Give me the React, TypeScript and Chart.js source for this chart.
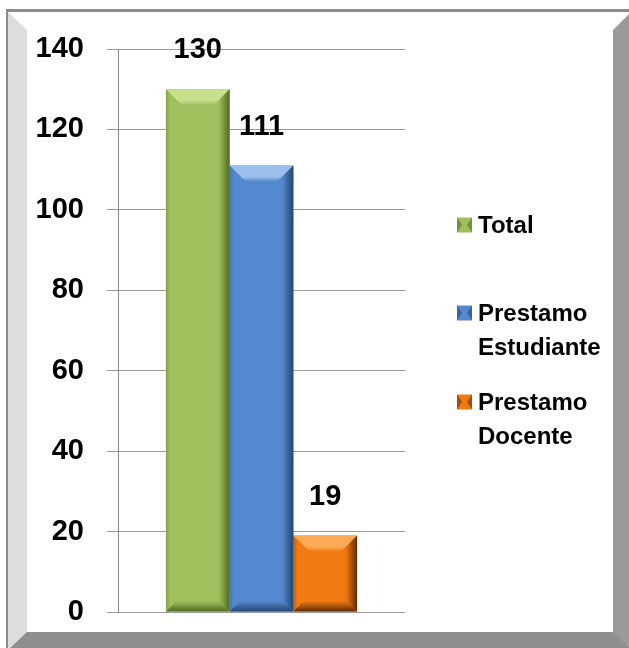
import React, { useEffect, useRef } from 'react';
import { Chart, registerables } from 'chart.js';

Chart.register(...registerables);

// ---- data ----
const categories = [''];
const seriesNames = ['Total', 'Prestamo Estudiante', 'Prestamo Docente'];
const legendLines = [['Total'], ['Prestamo', 'Estudiante'], ['Prestamo', 'Docente']];
const totalValues = [130];
const estudianteValues = [111];
const docenteValues = [19];
const yMin = 0;
const yMax = 140;
const yStep = 20;

// ---- styles ----
const faceColors = ['#9fc05c', '#5589cf', '#f07a12'];
const lightColors = ['#c8e08e', '#9cc0ec', '#fbab58'];
const darkColors = ['#4f6b20', '#22466f', '#5e2c02'];
const FONT = '"Liberation Sans", Arial, sans-serif';

function bevelRect(ctx: CanvasRenderingContext2D, l: number, t: number, r: number, b: number, d: number, i: number) {
  const face = faceColors[i];
  // top
  let g = ctx.createLinearGradient(0, t, 0, t + d);
  g.addColorStop(0, lightColors[i]);
  g.addColorStop(0.7, lightColors[i]);
  g.addColorStop(1, face);
  ctx.fillStyle = g;
  ctx.beginPath();
  ctx.moveTo(l, t); ctx.lineTo(r, t); ctx.lineTo(r - d, t + d); ctx.lineTo(l + d, t + d); ctx.closePath();
  ctx.fill();
  // right
  g = ctx.createLinearGradient(r - d, 0, r, 0);
  g.addColorStop(0, face);
  g.addColorStop(0.3, face);
  g.addColorStop(1, darkColors[i]);
  ctx.fillStyle = g;
  ctx.beginPath();
  ctx.moveTo(r, t); ctx.lineTo(r, b); ctx.lineTo(r - d, b - d); ctx.lineTo(r - d, t + d); ctx.closePath();
  ctx.fill();
  // bottom
  g = ctx.createLinearGradient(0, b - d, 0, b);
  g.addColorStop(0, face);
  g.addColorStop(0.35, face);
  g.addColorStop(1, darkColors[i]);
  ctx.fillStyle = g;
  ctx.beginPath();
  ctx.moveTo(l, b); ctx.lineTo(r, b); ctx.lineTo(r - d, b - d); ctx.lineTo(l + d, b - d); ctx.closePath();
  ctx.fill();
  // left
  g = ctx.createLinearGradient(l, 0, l + d, 0);
  g.addColorStop(0, darkColors[i]);
  g.addColorStop(0.25, face);
  g.addColorStop(1, face);
  ctx.fillStyle = g;
  ctx.globalAlpha = 0.35;
  ctx.beginPath();
  ctx.moveTo(l, t); ctx.lineTo(l + d, t + d); ctx.lineTo(l + d, b - d); ctx.lineTo(l, b); ctx.closePath();
  ctx.fill();
  ctx.globalAlpha = 1;
}

const bevelPlugin = {
  id: 'bevelBars',
  afterDatasetsDraw(chart: any) {
    const ctx = chart.ctx as CanvasRenderingContext2D;
    ctx.save();
    chart.data.datasets.forEach((ds: any, i: number) => {
      const meta = chart.getDatasetMeta(i);
      meta.data.forEach((el: any, j: number) => {
        const { x, y, base, width } = el.getProps(['x', 'y', 'base', 'width'], true);
        const l = x - width / 2;
        const r = x + width / 2;
        const t = Math.min(y, base);
        const b = Math.max(y, base);
        const d = Math.min(18, width / 4, (b - t) / 2);
        bevelRect(ctx, l, t, r, b, d, i);
        // value label
        ctx.fillStyle = '#000';
        ctx.font = `bold 29px ${FONT}`;
        ctx.textAlign = 'center';
        ctx.textBaseline = 'middle';
        ctx.fillText(String(ds.data[j]), x, t - 39);
      });
    });
    ctx.restore();
  },
};

const legendPlugin = {
  id: 'sideLegend',
  afterDraw(chart: any) {
    const ctx = chart.ctx as CanvasRenderingContext2D;
    ctx.save();
    const rowsY = [225, 313, 402];
    const lineH = 34;
    const markerX = 457;
    const textX = 478;
    const m = 15;
    legendLines.forEach((lines, i) => {
      const y0 = rowsY[i];
      ctx.fillStyle = faceColors[i];
      ctx.fillRect(markerX, y0 - m / 2, m, m);
      ctx.fillStyle = darkColors[i];
      ctx.globalAlpha = 0.55;
      ctx.beginPath();
      ctx.moveTo(markerX, y0 - m / 2); ctx.lineTo(markerX + 5, y0); ctx.lineTo(markerX, y0 + m / 2); ctx.closePath(); ctx.fill();
      ctx.beginPath();
      ctx.moveTo(markerX + m, y0 - m / 2); ctx.lineTo(markerX + m - 5, y0); ctx.lineTo(markerX + m, y0 + m / 2); ctx.closePath(); ctx.fill();
      ctx.globalAlpha = 1;
      ctx.fillStyle = '#000';
      ctx.font = `bold 24px ${FONT}`;
      ctx.textAlign = 'left';
      ctx.textBaseline = 'middle';
      lines.forEach((ln, k) => ctx.fillText(ln, textX, y0 + k * lineH + 1));
    });
    ctx.restore();
  },
};

export default function App() {
  const ref = useRef<HTMLCanvasElement | null>(null);
  useEffect(() => {
    if (!ref.current) return;
    const values = [totalValues, estudianteValues, docenteValues];
    const chart = new Chart(ref.current, {
      type: 'bar',
      data: {
        labels: categories,
        datasets: seriesNames.map((name, i) => ({
          label: name,
          data: values[i],
          backgroundColor: faceColors[i],
          borderWidth: 0,
          categoryPercentage: 0.666,
          barPercentage: 1,
        })),
      },
      options: {
        responsive: false,
        animation: false,
        devicePixelRatio: 1,
        layout: { padding: { left: 0, top: 49, right: 224, bottom: 36 } },
        plugins: { legend: { display: false }, tooltip: { enabled: false } },
        scales: {
          x: { display: false },
          y: {
            min: yMin,
            max: yMax,
            afterFit: (scale: any) => {
              scale.width = 118;
              scale.paddingTop = 0;
              scale.paddingBottom = 0;
            },
            ticks: {
              stepSize: yStep,
              color: '#000',
              padding: 23,
              font: { family: FONT, weight: 'bold', size: 29 },
            },
            grid: { color: '#9a9a9a', tickLength: 11, lineWidth: 1 },
            border: { display: true, color: '#8a8a8a', width: 1 },
          },
        },
      },
      plugins: [bevelPlugin, legendPlugin],
    } as any);
    return () => chart.destroy();
  }, []);

  return (
    <div style={{ position: 'fixed', left: 0, top: 0, width: 629, height: 648, overflow: 'hidden', background: '#fff' }}>
      <div
        style={{
          position: 'absolute', left: 6, top: 9, width: 627, height: 643, boxSizing: 'border-box',
          borderStyle: 'solid', borderColor: '#8c8c8c', borderWidth: '3px 2px 2px 2px',
        }}
      >
        <div
          style={{
            width: '100%', height: '100%', boxSizing: 'border-box', background: '#fff',
            borderStyle: 'solid',
            borderTopWidth: 18, borderLeftWidth: 19, borderRightWidth: 18, borderBottomWidth: 18,
            borderTopColor: '#ffffff', borderLeftColor: '#dddddd', borderRightColor: '#9a9a9a', borderBottomColor: '#8e8e8e',
          }}
        />
      </div>
      <canvas ref={ref} width={629} height={648} style={{ position: 'absolute', left: 0, top: 0 }} />
    </div>
  );
}
